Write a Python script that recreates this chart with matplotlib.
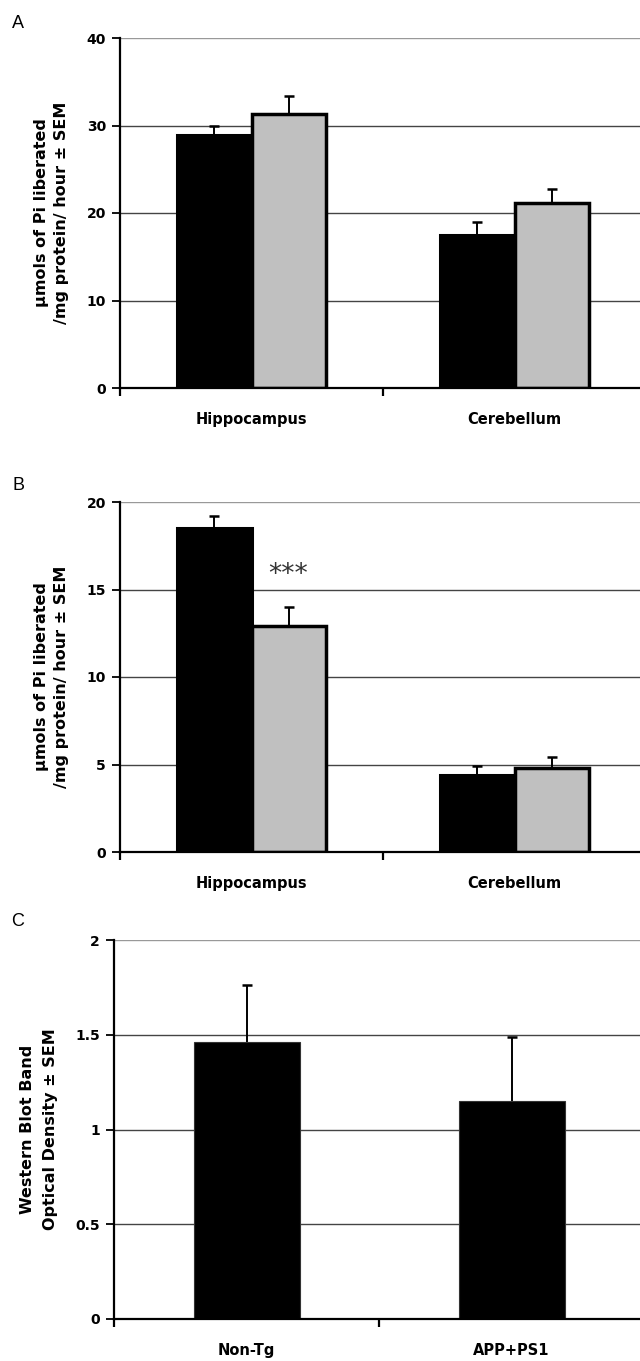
import numpy as np
import matplotlib.pyplot as plt

plt.rcParams['font.family'] = ['DejaVu Sans']
plt.rcParams['font.weight'] = 'bold'

# Panel A: Pi liberated (hippocampus / cerebellum)
regions = ['Hippocampus', 'Cerebellum']
a_nontg = [28.9, 17.5]
a_nontg_err = [1.1, 1.5]
a_tg = [31.3, 21.1]
a_tg_err = [2.1, 1.7]

# Panel B
b_nontg = [18.5, 4.4]
b_nontg_err = [0.7, 0.5]
b_tg = [12.9, 4.8]
b_tg_err = [1.1, 0.65]

# Panel C: western blot
groups_c = ['Non-Tg', 'APP+PS1']
c_vals = [1.46, 1.15]
c_err = [0.30, 0.34]

ylabel_pi = 'μmols of Pi liberated\n/mg protein/ hour ± SEM'
ylabel_wb = 'Western Blot Band\nOptical Density ± SEM'

fig = plt.figure(figsize=(6.4, 13.61), dpi=100)
H = 1361.0
W = 640.0


def make_axes(left_px, top_px, bottom_px, right_px):
    return fig.add_axes([left_px / W, 1 - bottom_px / H,
                         (right_px - left_px) / W, (bottom_px - top_px) / H])


def style_axes(ax, ymax, step, labels):
    ticks = np.arange(0, ymax + step / 2, step)
    ax.set_ylim(0, ymax)
    ax.set_xlim(-0.5, len(labels) - 0.5)
    ax.set_yticks(ticks)
    ax.set_yticklabels([('%g' % t) for t in ticks], fontsize=10, fontweight='bold')
    for t in ticks[1:-1]:
        ax.axhline(t, color='#444444', lw=1.0, zorder=0)
    ax.axhline(ymax, color='#999999', lw=1.0, zorder=0)
    ax.spines['top'].set_visible(False)
    ax.spines['right'].set_visible(False)
    ax.spines['left'].set_linewidth(1.6)
    ax.spines['bottom'].set_linewidth(1.6)
    ax.set_xticks(range(len(labels)))
    ax.set_xticklabels(labels, fontsize=10.5, fontweight='bold')
    ax.tick_params(axis='x', which='major', length=0, pad=17)
    ax.set_xticks(np.arange(-0.5, len(labels), 1.0), minor=True)
    ax.tick_params(axis='x', which='minor', length=6, width=1.6, direction='out')
    ax.tick_params(axis='y', length=6, width=1.3, pad=4)


def up_errors(ax, x, v, e):
    # upper error only: stem from bar top plus a cap
    top = np.asarray(v) + np.asarray(e)
    ax.vlines(x, v, top, color='black', lw=1.4, zorder=1.5)
    ax.plot(x, top, ls='none', marker='_', ms=7.5, mew=1.8, color='black', zorder=3)


def grouped(ax, v1, e1, v2, e2):
    x = np.arange(len(regions))
    w = 0.285
    ax.bar(x - w / 2, v1, w, color='black', edgecolor='black', lw=2.2, zorder=2)
    ax.bar(x + w / 2, v2, w, color='#c0c0c0', edgecolor='black', lw=2.5, zorder=2)
    up_errors(ax, x - w / 2, v1, e1)
    up_errors(ax, x + w / 2, v2, e2)


def panel_letter(letter, y_px):
    fig.text(18 / W, 1 - y_px / H, letter, fontsize=13, fontweight='normal',
             family='Liberation Sans', ha='center', va='center')


# A
axA = make_axes(120, 38, 388, 646)
grouped(axA, a_nontg, a_nontg_err, a_tg, a_tg_err)
style_axes(axA, 40, 10, regions)
axA.set_ylabel(ylabel_pi, fontsize=11.5, fontweight='bold', linespacing=1.45)
axA.yaxis.set_label_coords((69 - 120) / 526, 0.5)
panel_letter('A', 23)

# B
axB = make_axes(120, 502, 852, 646)
grouped(axB, b_nontg, b_nontg_err, b_tg, b_tg_err)
style_axes(axB, 20, 5, regions)
axB.set_ylabel(ylabel_pi, fontsize=11.5, fontweight='bold', linespacing=1.45)
axB.yaxis.set_label_coords((69 - 120) / 526, 0.5)
axB.text(0.14, 15.45, '***', fontsize=19, fontweight='normal', color='#333333',
         ha='center', va='baseline')
panel_letter('B', 485)

# C
axC = make_axes(114, 940, 1319, 644)
xc = np.arange(len(groups_c))
axC.bar(xc, c_vals, 0.4, color='black', edgecolor='#333333', lw=0.8, zorder=2)
up_errors(axC, xc, c_vals, c_err)
style_axes(axC, 2, 0.5, groups_c)
axC.set_ylabel(ylabel_wb, fontsize=11.5, fontweight='bold', linespacing=1.65)
axC.yaxis.set_label_coords((58 - 114) / 530, 0.5)
panel_letter('C', 922)

fig.savefig('out.png', dpi=100)
